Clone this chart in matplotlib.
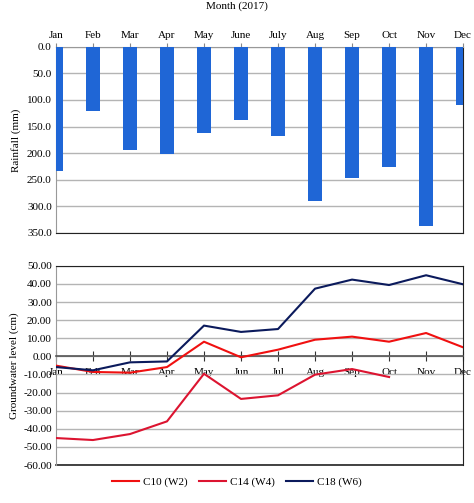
import numpy as np
import matplotlib.pyplot as plt

# 数据
months_top = ["Jan", "Feb", "Mar", "Apr", "May", "June", "July", "Aug", "Sep", "Oct", "Nov", "Dec"]
months_bottom = ["Jan", "Feb", "Mar", "Apr", "May", "Jun", "Jul", "Aug", "Sep", "Oct", "Nov", "Dec"]
rainfall = [233, 121, 195, 201, 162, 138, 168, 290, 247, 227, 337, 110]
c10_w2 = [-5.1, -8.6, -9.0, -5.9, 8.1, -0.5, 3.7, 9.2, 10.9, 8.1, 12.9, 5.0]
c14_w4 = [-45.1, -46.2, -42.9, -35.9, -9.6, -23.5, -21.5, -10.1, -7.0, -11.4, np.nan, np.nan]
c18_w6 = [-5.9, -7.7, -3.3, -2.8, 17.0, 13.5, 15.1, 37.4, 42.4, 39.4, 44.8, 39.8]

plt.rcParams["font.family"] = ["Liberation Serif", "DejaVu Serif"]
plt.rcParams["font.size"] = 8

fig = plt.figure(figsize=(4.74, 5.03), dpi=100)
x = np.arange(len(months_top))
grid_c = "#b4b4b4"
dark = "#222222"

# 上图: 降雨量 (倒置)
ax1 = fig.add_axes([0.118, 0.537, 0.859, 0.370])
ax1.bar(x, rainfall, width=0.38, color="#1f66d6", zorder=3)
ax1.set_xlim(0, 11)
ax1.set_ylim(350, 0)
ax1.set_yticks(np.arange(0, 351, 50))
ax1.set_yticklabels(["%.1f" % v for v in np.arange(0, 351, 50)])
ax1.xaxis.tick_top()
ax1.set_xticks(x)
ax1.set_xticklabels(months_top)
ax1.tick_params(axis="x", length=3, color="#888888", pad=2)
ax1.tick_params(axis="y", length=0, pad=3)
ax1.yaxis.grid(True, color=grid_c, lw=1, zorder=0)
ax1.set_ylabel("Rainfall (mm)", labelpad=4)
ax1.spines["left"].set_color("#999999")
ax1.spines["top"].set_color("#999999")
ax1.spines["bottom"].set_color(dark)
ax1.spines["right"].set_color(dark)
fig.text(0.5, 0.998, "Month (2017)", ha="center", va="top", fontsize=8)

# 下图: 地下水位
ax2 = fig.add_axes([0.118, 0.0755, 0.859, 0.396])
ax2.plot(x, c10_w2, color="#f01010", lw=1.5, label="C10 (W2)", zorder=3)
ax2.plot(x, c14_w4, color="#dc1430", lw=1.5, label="C14 (W4)", zorder=3)
ax2.plot(x, c18_w6, color="#0b1a5c", lw=1.5, label="C18 (W6)", zorder=3)
ax2.set_xlim(0, 11)
ax2.set_ylim(-60, 50)
ax2.set_yticks(np.arange(-60, 51, 10))
ax2.set_yticklabels(["%.2f" % v for v in np.arange(-60, 51, 10)])
ax2.yaxis.grid(True, color=grid_c, lw=1, zorder=0)
ax2.tick_params(axis="y", length=0, pad=3)
ax2.set_xticks(x)
ax2.set_xticklabels(months_bottom)
# 零线当作x轴, 月份标签压在线上
ax2.spines["bottom"].set_position(("data", 0))
ax2.spines["bottom"].set_color("#555555")
ax2.spines["bottom"].set_linewidth(1.2)
ax2.tick_params(axis="x", direction="inout", length=7, width=0.8, color="#333333", pad=5)
ax2.spines["left"].set_color("#999999")
ax2.spines["top"].set_color(dark)
ax2.spines["right"].set_color(dark)
ax2.axhline(-60, color=dark, lw=1.2, clip_on=False)
ax2.set_ylabel("Groundwater level (cm)", labelpad=3)
fig.legend(loc="center", bbox_to_anchor=(0.5, 0.042), ncol=3, frameon=False,
           handlelength=2.4, columnspacing=1.0, handletextpad=0.4)

fig.savefig("out.png", dpi=100)
